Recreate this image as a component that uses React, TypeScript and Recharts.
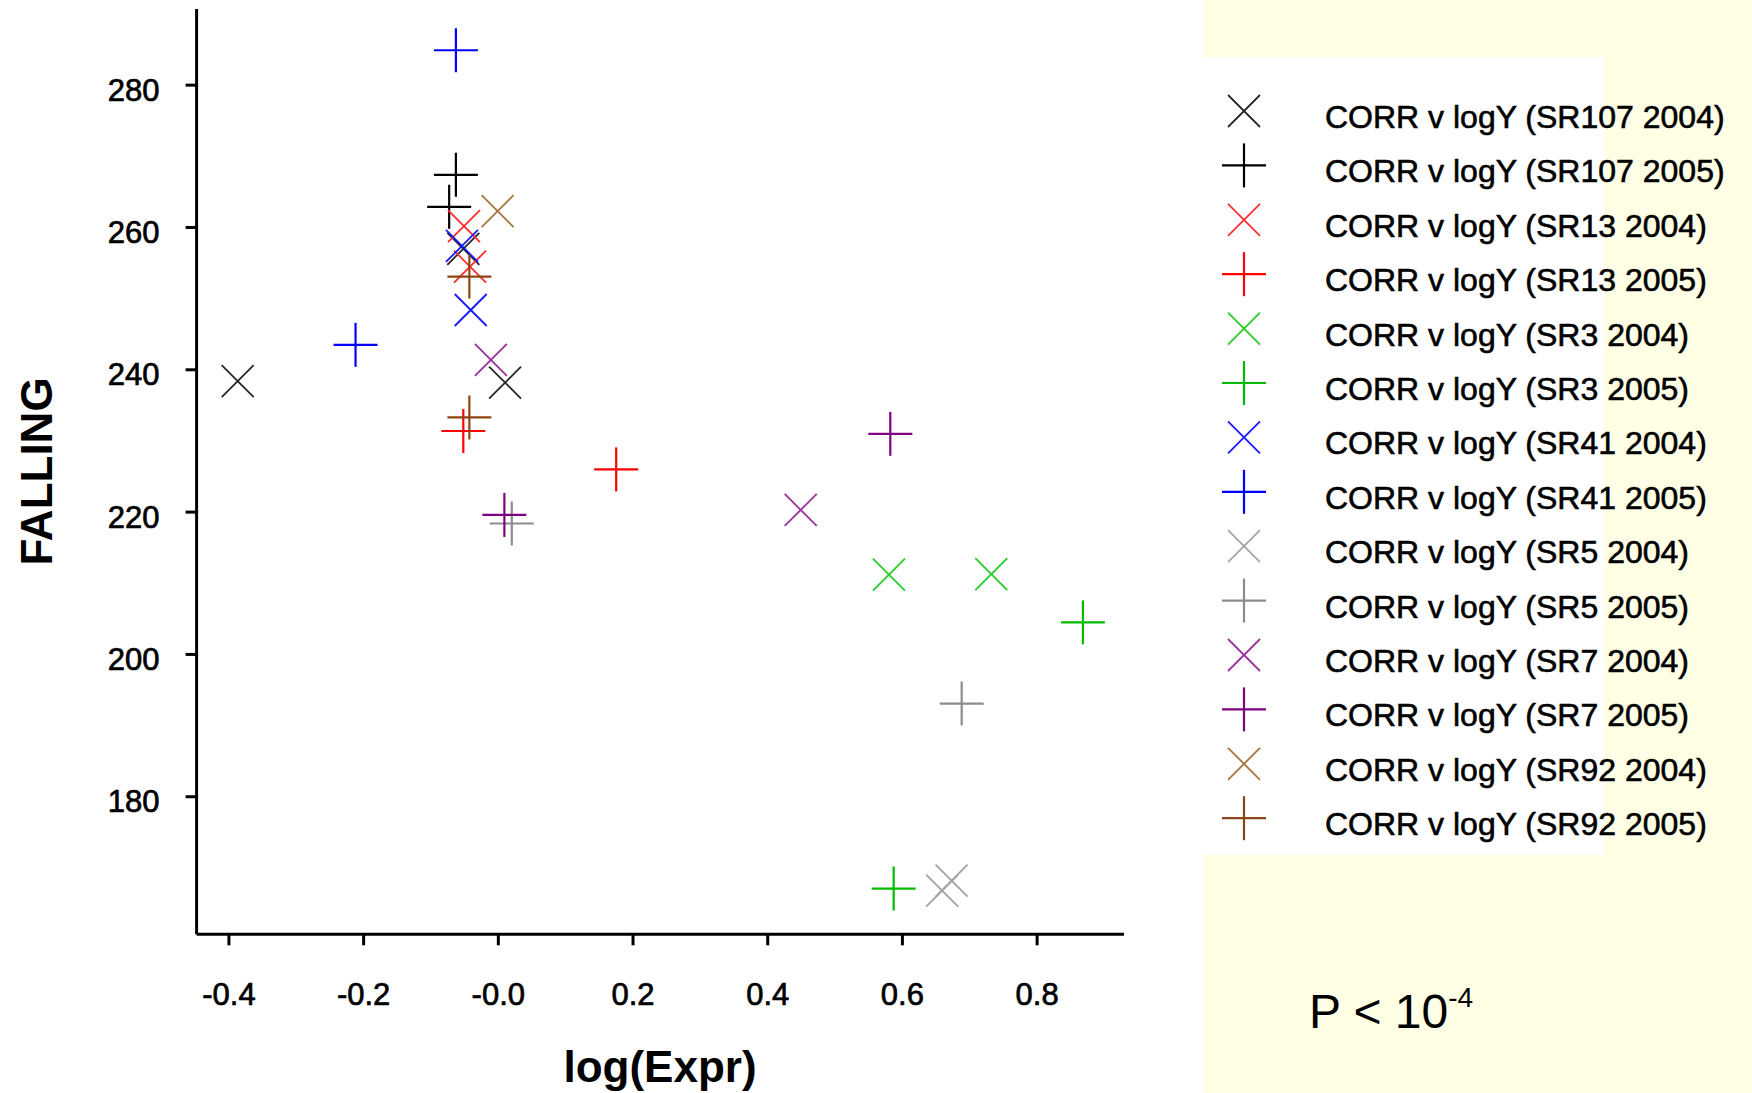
import React from 'react';
import { ScatterChart, Scatter, XAxis, YAxis } from 'recharts';

type Pt = { x: number; y: number };

// ---- data ----
const sr107_2004: Pt[] = [
  { x: -0.387, y: 238.4 },
  { x: 0.010, y: 238.2 },
  { x: -0.052, y: 257.0 },
];
const sr107_2005: Pt[] = [
  { x: -0.063, y: 267.4 },
  { x: -0.073, y: 262.9 },
];
const sr13_2004: Pt[] = [
  { x: -0.051, y: 260.2 },
  { x: -0.042, y: 254.5 },
];
const sr13_2005: Pt[] = [
  { x: -0.052, y: 231.4 },
  { x: 0.175, y: 226.0 },
];
const sr3_2004: Pt[] = [
  { x: 0.580, y: 211.2 },
  { x: 0.732, y: 211.3 },
];
const sr3_2005: Pt[] = [
  { x: 0.868, y: 204.5 },
  { x: 0.587, y: 167.1 },
];
const sr41_2004: Pt[] = [
  { x: -0.054, y: 257.4 },
  { x: -0.041, y: 248.4 },
];
const sr41_2005: Pt[] = [
  { x: -0.063, y: 284.9 },
  { x: -0.212, y: 243.5 },
];
const sr5_2004: Pt[] = [
  { x: 0.673, y: 168.2 },
  { x: 0.659, y: 166.8 },
];
const sr5_2005: Pt[] = [
  { x: 0.020, y: 218.4 },
  { x: 0.688, y: 193.1 },
];
const sr7_2004: Pt[] = [
  { x: -0.011, y: 241.4 },
  { x: 0.449, y: 220.3 },
];
const sr7_2005: Pt[] = [
  { x: 0.009, y: 219.6 },
  { x: 0.582, y: 231.0 },
];
const sr92_2004: Pt[] = [{ x: -0.001, y: 262.3 }];
const sr92_2005: Pt[] = [
  { x: -0.043, y: 253.1 },
  { x: -0.043, y: 233.3 },
];

const xTicks = [-0.4, -0.2, 0, 0.2, 0.4, 0.6, 0.8];
const xTickLabels = ['-0.4', '-0.2', '-0.0', '0.2', '0.4', '0.6', '0.8'];
const yTicks = [180, 200, 220, 240, 260, 280];
const yTickLabels = ['180', '200', '220', '240', '260', '280'];

type Series = { name: string; data: Pt[]; marker: 'x' | 'plus'; color: string };

const series: Series[] = [
  { name: 'CORR v logY (SR107 2004)', data: sr107_2004, marker: 'x', color: '#262626' },
  { name: 'CORR v logY (SR107 2005)', data: sr107_2005, marker: 'plus', color: '#000000' },
  { name: 'CORR v logY (SR13 2004)', data: sr13_2004, marker: 'x', color: '#FF2E2E' },
  { name: 'CORR v logY (SR13 2005)', data: sr13_2005, marker: 'plus', color: '#FF0000' },
  { name: 'CORR v logY (SR3 2004)', data: sr3_2004, marker: 'x', color: '#26CC26' },
  { name: 'CORR v logY (SR3 2005)', data: sr3_2005, marker: 'plus', color: '#00BB00' },
  { name: 'CORR v logY (SR41 2004)', data: sr41_2004, marker: 'x', color: '#1A1AFF' },
  { name: 'CORR v logY (SR41 2005)', data: sr41_2005, marker: 'plus', color: '#0000FF' },
  { name: 'CORR v logY (SR5 2004)', data: sr5_2004, marker: 'x', color: '#A3A3A3' },
  { name: 'CORR v logY (SR5 2005)', data: sr5_2005, marker: 'plus', color: '#8C8C8C' },
  { name: 'CORR v logY (SR7 2004)', data: sr7_2004, marker: 'x', color: '#9A329A' },
  { name: 'CORR v logY (SR7 2005)', data: sr7_2005, marker: 'plus', color: '#800080' },
  { name: 'CORR v logY (SR92 2004)', data: sr92_2004, marker: 'x', color: '#A8743E' },
  { name: 'CORR v logY (SR92 2005)', data: sr92_2005, marker: 'plus', color: '#8B4513' },
];

const FONT = '"Liberation Sans", Arial, Helvetica, sans-serif';
const PLUS = 22;
const XH = 16;

function Marker({ cx, cy, kind, color }: { cx: number; cy: number; kind: 'x' | 'plus'; color: string }) {
  if (kind === 'plus') {
    return (
      <g>
        <line x1={cx - PLUS} y1={cy} x2={cx + PLUS} y2={cy} stroke={color} strokeWidth={2.2} />
        <line x1={cx} y1={cy - PLUS} x2={cx} y2={cy + PLUS} stroke={color} strokeWidth={2.2} />
      </g>
    );
  }
  return (
    <g>
      <line x1={cx - XH} y1={cy - XH} x2={cx + XH} y2={cy + XH} stroke={color} strokeWidth={1.8} />
      <line x1={cx - XH} y1={cy + XH} x2={cx + XH} y2={cy - XH} stroke={color} strokeWidth={1.8} />
    </g>
  );
}

const makeShape = (kind: 'x' | 'plus', color: string) => (props: any) => {
  const { cx, cy } = props;
  if (cx == null || cy == null) return <g />;
  return <Marker cx={cx} cy={cy} kind={kind} color={color} />;
};

const XTick = (props: any) => {
  const { x, y, payload } = props;
  const i = xTicks.indexOf(payload.value);
  const label = i >= 0 ? xTickLabels[i] : String(payload.value);
  return (
    <text x={x} y={y + 49} textAnchor="middle" dominantBaseline="central" fontSize={31} fontFamily={FONT} fill="#000" stroke="#000" strokeWidth={0.7}>
      {label}
    </text>
  );
};

const YTick = (props: any) => {
  const { x, y, payload } = props;
  const i = yTicks.indexOf(payload.value);
  const label = i >= 0 ? yTickLabels[i] : String(payload.value);
  return (
    <text x={x - 26} y={y + 5} textAnchor="end" dominantBaseline="central" fontSize={31} fontFamily={FONT} fill="#000" stroke="#000" strokeWidth={0.7}>
      {label}
    </text>
  );
};

export default function App() {
  const legendTop = 117;
  const legendStep = 54.4;
  return (
    <div style={{ position: 'absolute', left: 0, top: 0, width: 1752, height: 1093, background: '#ffffff', overflow: 'hidden' }}>
      <div style={{ position: 'absolute', left: 1204, top: 0, width: 548, height: 1093, background: '#FFFFE6' }} />
      <div style={{ position: 'absolute', left: 1204, top: 57, width: 400, height: 798, background: '#ffffff' }} />
      <div style={{ position: 'absolute', left: 0, top: 0 }}>
        <ScatterChart width={1752} height={1093} margin={{ top: 9, right: 628, bottom: 0, left: 0 }}>
          <XAxis
            type="number"
            dataKey="x"
            domain={[-0.448, 0.929]}
            allowDataOverflow
            ticks={xTicks}
            height={158.7}
            axisLine={{ stroke: '#000', strokeWidth: 3 }}
            tickLine={{ stroke: '#000', strokeWidth: 3 }}
            tickSize={11}
            tickMargin={0}
            tick={<XTick />}
            interval={0}
          />
          <YAxis
            type="number"
            dataKey="y"
            domain={[160.67, 290.7]}
            allowDataOverflow
            ticks={yTicks}
            width={196.6}
            axisLine={{ stroke: '#000', strokeWidth: 3 }}
            tickLine={{ stroke: '#000', strokeWidth: 3 }}
            tickSize={11}
            tickMargin={0}
            tick={<YTick />}
            interval={0}
          />
          {series.map((s) => (
            <Scatter
              key={s.name}
              name={s.name}
              data={s.data}
              shape={makeShape(s.marker, s.color)}
              isAnimationActive={false}
              legendType="none"
            />
          ))}
        </ScatterChart>
      </div>
      <svg width={1752} height={1093} style={{ position: 'absolute', left: 0, top: 0, pointerEvents: 'none' }}>
        <text
          x={36}
          y={471.5}
          transform="rotate(-90 36 471.5)"
          textAnchor="middle"
          dominantBaseline="central"
          fontSize={44}
          fontWeight="bold"
          fontFamily={FONT}
          fill="#000"
        >
          FALLING
        </text>
        <text x={660} y={1082} textAnchor="middle" fontSize={44} fontWeight="bold" fontFamily={FONT} fill="#000">
          log(Expr)
        </text>
        {series.map((s, i) => {
          const ty = legendTop + legendStep * i;
          return (
            <g key={s.name}>
              <Marker cx={1244} cy={ty - 6} kind={s.marker} color={s.color} />
              <text x={1325} y={ty} dominantBaseline="central" fontSize={32} fontFamily={FONT} fill="#000" stroke="#000" strokeWidth={0.6}>
                {s.name}
              </text>
            </g>
          );
        })}
        <text x={1309} y={1028} fontSize={48} fontFamily={FONT} fill="#000">
          P &lt; 10
          <tspan fontSize={28} dy={-21}>-4</tspan>
        </text>
      </svg>
    </div>
  );
}
